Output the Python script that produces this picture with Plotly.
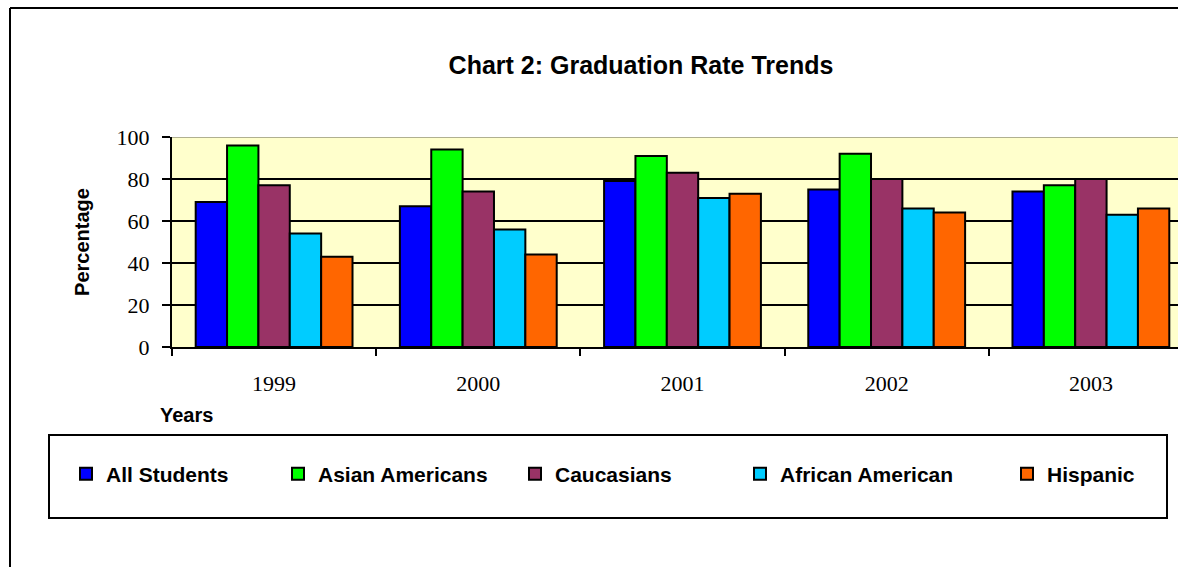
import plotly.graph_objects as go

years = ["1999", "2000", "2001", "2002", "2003"]
all_students = [69, 67, 79, 75, 74]
asian_americans = [96, 94, 91, 92, 77]
caucasians = [77, 74, 83, 80, 80]
african_american = [54, 56, 71, 66, 63]
hispanic = [43, 44, 73, 64, 66]

series_names = ["All Students", "Asian Americans", "Caucasians", "African American", "Hispanic"]
series_values = [all_students, asian_americans, caucasians, african_american, hispanic]
series_colors = ["#0000FF", "#00FF00", "#993366", "#00CCFF", "#FF6600"]

W, H = 1178, 567
L, R, T, B = 172, 0, 137, 220
PW = W - L - R
PH = H - T - B


def px(x):
    return (x - L) / PW


def py(y):
    return (H - B - y) / PH


SANS = "Arial, Liberation Sans, sans-serif"
SERIF = "Times New Roman, Liberation Serif, serif"

fig = go.Figure()
legend_text_starts = [106, 318, 555, 780, 1047]
for i, (name, vals, col) in enumerate(zip(series_names, series_values, series_colors)):
    lg = "legend" if i == 0 else f"legend{i+1}"
    fig.add_trace(go.Bar(
        x=years, y=vals, name=name,
        marker=dict(color=col, line=dict(color="black", width=2)),
        legend=lg,
    ))

layout_legends = {}
for i, xs in enumerate(legend_text_starts):
    key = "legend" if i == 0 else f"legend{i+1}"
    layout_legends[key] = dict(
        x=px(xs - 40), xanchor="left", y=py(474), yanchor="middle",
        orientation="h", bgcolor="rgba(0,0,0,0)", borderwidth=0,
        font=dict(family=SANS, size=21, color="black", weight="bold"),
    )

fig.update_layout(
    width=W, height=H,
    margin=dict(l=L, r=R, t=T, b=B, pad=0),
    paper_bgcolor="white",
    plot_bgcolor="#FFFFCC",
    barmode="group", bargap=0.232, bargroupgap=0,
    showlegend=True,
    title=dict(text="<b>Chart 2: Graduation Rate Trends</b>", x=641 / W, xref="container",
               xanchor="center", y=1 - 65 / H, yref="container", yanchor="middle",
               font=dict(family=SANS, size=25, color="black")),
    **layout_legends,
)

fig.update_xaxes(
    type="category", range=[-0.5, 4.5 - 15 / 204.25],
    showline=True, linecolor="black", linewidth=2,
    ticks="outside", tickson="boundaries", ticklen=7, tickwidth=2, tickcolor="black",
    tickfont=dict(family=SERIF, size=22, color="black"),
    ticklabelstandoff=16,
    showgrid=False,
)
fig.update_yaxes(
    range=[0, 100], dtick=20, tick0=0,
    showline=True, linecolor="black", linewidth=2,
    ticks="outside", ticklen=8, tickwidth=2, tickcolor="black",
    tickfont=dict(family=SERIF, size=22, color="black"),
    ticklabelstandoff=8,
    showgrid=True, gridcolor="black", gridwidth=2,
    zeroline=False,
    title=dict(text="<b>Percentage</b>", font=dict(family=SANS, size=20, color="black"), standoff=22),
)

# x axis title placed at the left, as in the original
fig.add_annotation(text="<b>Years</b>", xref="paper", yref="paper", x=px(186), y=py(415),
                   xanchor="center", yanchor="middle", showarrow=False,
                   font=dict(family=SANS, size=20, color="black"))

# plot area top border (grey)
fig.add_shape(type="line", xref="paper", yref="y", x0=0, x1=1, y0=100, y1=100,
              line=dict(color="#B0B090", width=2))

# legend box
fig.add_shape(type="rect", xref="paper", yref="paper", x0=px(49), x1=px(1167), y0=py(518), y1=py(435),
              line=dict(color="black", width=2), fillcolor="rgba(0,0,0,0)", layer="below")

# chart outer border: left and top edges (the rest lies outside the picture)
fig.add_shape(type="line", xref="paper", yref="paper", x0=px(10), x1=px(10), y0=py(567), y1=py(8),
              line=dict(color="black", width=2), layer="below")
fig.add_shape(type="line", xref="paper", yref="paper", x0=px(10), x1=1, y0=py(8), y1=py(8),
              line=dict(color="black", width=2), layer="below")

fig.write_html("out.html", config={"displayModeBar": False})
